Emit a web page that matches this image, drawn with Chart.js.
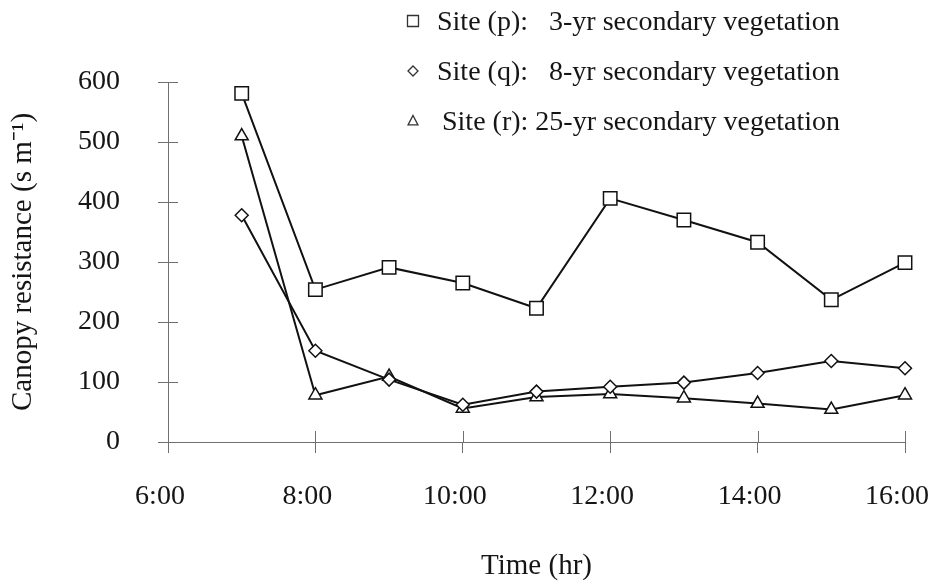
<!DOCTYPE html>
<html>
<head>
<meta charset="utf-8">
<script src="https://cdn.jsdelivr.net/npm/chart.js@4/dist/chart.umd.min.js"></script>
<style>
  html, body { margin: 0; padding: 0; background: #fff; }
  #wrap { width: 933px; height: 584px; }
</style>
</head>
<body>
<div id="wrap"><canvas id="canopyChart" width="933" height="584"></canvas></div>
<script>
// hours of the day (x) and canopy resistance (s m-1) per site
var hours = [7, 8, 9, 10, 11, 12, 13, 14, 15, 16];
var siteP = [581, 254, 291, 265, 223, 406, 370, 333, 237, 299];
var siteQ = [378, 152, 104, 62, 84, 92, 99, 115, 135, 123];
var siteR = [510, 78, 109, 56, 75, 80, 73, 64, 54, 78];
var siteLabels = [
    'Site (p):   3-yr secondary vegetation',
    'Site (q):   8-yr secondary vegetation',
    'Site (r): 25-yr secondary vegetation'
];
var xTicks = [6, 8, 10, 12, 14, 16];

var serif = '"Liberation Serif", "Times New Roman", serif';
var axisColor = '#707070';
var inkColor = '#151515';

function toPoints(vals) {
    return vals.map(function (v, i) { return { x: hours[i], y: v }; });
}

// own marker drawing for the legend (square / diamond / triangle)
function drawMarker(ctx, style, x, y, r) {
    ctx.beginPath();
    if (style === 'rect') {
        ctx.rect(x - r, y - r, 2 * r, 2 * r);
    } else if (style === 'rectRot') {
        ctx.moveTo(x - r, y); ctx.lineTo(x, y - r);
        ctx.lineTo(x + r, y); ctx.lineTo(x, y + r);
        ctx.closePath();
    } else {
        ctx.moveTo(x, y - r);
        ctx.lineTo(x + r * 0.9, y + r * 0.7);
        ctx.lineTo(x - r * 0.9, y + r * 0.7);
        ctx.closePath();
    }
    ctx.fill();
    ctx.stroke();
}

var cornerLegend = {
    id: 'cornerLegend',
    afterDraw: function (chart) {
        var ctx = chart.ctx;
        var sizes = [5.5, 5, 5.5];
        ctx.save();
        ctx.font = '28px ' + serif;
        ctx.textBaseline = 'alphabetic';
        chart.data.datasets.forEach(function (ds, i) {
            var cy = 21 + i * 50;
            ctx.fillStyle = '#fff';
            ctx.strokeStyle = '#333';
            ctx.lineWidth = 1.3;
            drawMarker(ctx, ds.pointStyle, 413, cy, sizes[i]);
            ctx.fillStyle = inkColor;
            ctx.fillText(ds.label, i === 2 ? 442 : 437, cy + 9);
        });
        ctx.restore();
    }
};

// tick marks cross the axes: draw the inner half here
var innerTicks = {
    id: 'innerTicks',
    beforeDatasetsDraw: function (chart) {
        var ctx = chart.ctx, a = chart.chartArea;
        var xs = chart.scales.x, ys = chart.scales.y;
        ctx.save();
        ctx.strokeStyle = axisColor;
        ctx.lineWidth = 1;
        ctx.beginPath();
        ys.ticks.forEach(function (t) {
            var py = Math.round(ys.getPixelForValue(t.value)) + 0.5;
            ctx.moveTo(a.left, py); ctx.lineTo(a.left + 10, py);
        });
        xs.ticks.forEach(function (t) {
            var px = Math.round(xs.getPixelForValue(t.value)) + 0.5;
            ctx.moveTo(px, a.bottom); ctx.lineTo(px, a.bottom - 11);
        });
        ctx.stroke();
        ctx.restore();
    }
};

var common = {
    borderColor: '#111',
    borderWidth: 2,
    backgroundColor: '#fff',
    pointBackgroundColor: '#fff',
    pointBorderColor: '#111',
    pointBorderWidth: 1.5,
    tension: 0,
    clip: false
};

var config = {
    type: 'line',
    data: {
        datasets: [
            Object.assign({ label: siteLabels[0], data: toPoints(siteP), pointStyle: 'rect', pointRadius: 9.5 }, common),
            Object.assign({ label: siteLabels[1], data: toPoints(siteQ), pointStyle: 'rectRot', pointRadius: 6.5 }, common),
            Object.assign({ label: siteLabels[2], data: toPoints(siteR), pointStyle: 'triangle', pointRadius: 7.5 }, common)
        ]
    },
    options: {
        responsive: false,
        animation: false,
        layout: { padding: { left: 0, top: 82, right: 28, bottom: 0 } },
        plugins: {
            legend: { display: false },
            tooltip: { enabled: false }
        },
        scales: {
            x: {
                type: 'linear',
                min: 6,
                max: 16,
                afterBuildTicks: function (s) {
                    s.ticks = xTicks.map(function (v) { return { value: v }; });
                },
                afterFit: function (s) {
                    s.height = 142;
                    s.paddingLeft = 0;
                    s.paddingRight = 0;
                },
                ticks: {
                    callback: function (v) { return v + ':00'; },
                    font: { family: serif, size: 28 },
                    color: inkColor,
                    padding: 27,
                    labelOffset: -8,
                    maxRotation: 0
                },
                grid: { drawOnChartArea: false, tickLength: 11, color: axisColor, lineWidth: 1 },
                border: { color: axisColor, width: 1 },
                title: {
                    display: true,
                    text: 'Time (hr)',
                    font: { family: serif, size: 29 },
                    color: inkColor,
                    padding: { top: 0, bottom: 0 }
                }
            },
            y: {
                min: 0,
                max: 600,
                afterFit: function (s) { s.width = 168; },
                ticks: {
                    stepSize: 100,
                    font: { family: serif, size: 28 },
                    color: inkColor,
                    padding: 38
                },
                grid: { drawOnChartArea: false, tickLength: 10, color: axisColor, lineWidth: 1 },
                border: { color: axisColor, width: 1 },
                title: {
                    display: true,
                    text: 'Canopy resistance (s m\u207B\u00B9)',
                    font: { family: serif, size: 29 },
                    color: inkColor,
                    padding: { top: 6, bottom: 0 }
                }
            }
        }
    },
    plugins: [innerTicks, cornerLegend]
};

window.onload = function () {
    new Chart(document.getElementById('canopyChart'), config);
};
</script>
</body>
</html>
